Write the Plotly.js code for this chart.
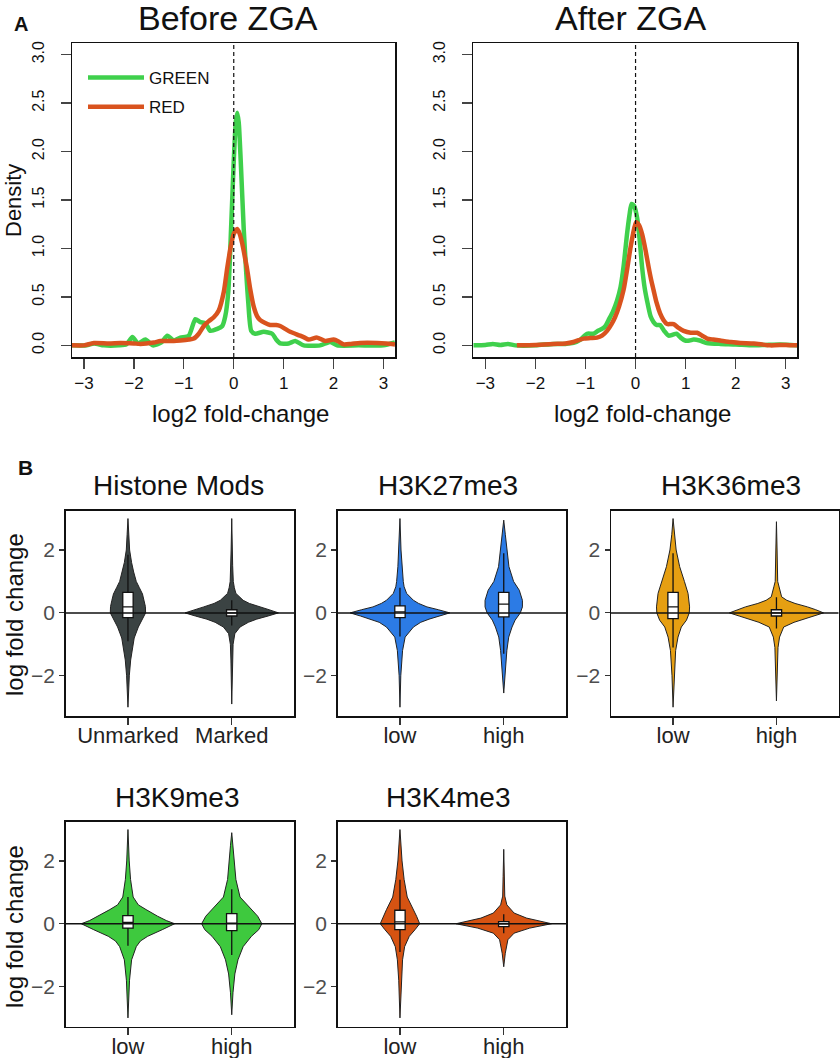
<!DOCTYPE html>
<html>
<head>
<meta charset="utf-8">
<script src="https://cdn.plot.ly/plotly-3.0.1.min.js"></script>
<style>
  html, body { margin: 0; padding: 0; background: #fff; }
  #chart { width: 840px; height: 1058px; }
</style>
</head>
<body>
<div id="chart"></div>
<script>
// ---- Panel A: density of log2 fold-change ----
const beforeGreenX = [-3.24, -2.95, -2.8, -2.6, -2.3, -2.15, -2.03, -1.92, -1.77, -1.62, -1.45, -1.33, -1.2, -1.07, -0.9, -0.77, -0.67, -0.57, -0.47, -0.33, -0.23, -0.17, -0.11, -0.05, 0.0, 0.04, 0.07, 0.1, 0.14, 0.2, 0.25, 0.29, 0.35, 0.43, 0.6, 0.77, 0.85, 0.93, 1.1, 1.23, 1.4, 1.73, 1.93, 2.07, 2.5, 3.0, 3.23];
const beforeGreenY = [0.0, 0.0, 0.02, 0.0, 0.0, 0.01, 0.086, 0.02, 0.06, 0.0, 0.03, 0.1, 0.05, 0.08, 0.1, 0.27, 0.24, 0.23, 0.15, 0.17, 0.2, 0.3, 0.55, 1.25, 1.9, 2.3, 2.4, 2.3, 1.9, 1.2, 0.75, 0.45, 0.15, 0.12, 0.14, 0.12, 0.06, 0.02, 0.02, 0.045, 0.0, 0.0, 0.035, 0.0, 0.0, 0.0, 0.03];
const beforeRedX = [-3.24, -3.0, -2.8, -2.5, -2.27, -2.0, -1.87, -1.6, -1.47, -1.2, -1.07, -0.9, -0.8, -0.7, -0.6, -0.5, -0.4, -0.3, -0.2, -0.13, -0.06, 0.0, 0.07, 0.12, 0.17, 0.22, 0.27, 0.33, 0.4, 0.47, 0.53, 0.63, 0.73, 0.85, 0.93, 1.03, 1.13, 1.23, 1.33, 1.42, 1.5, 1.67, 1.83, 2.0, 2.1, 2.2, 2.35, 2.53, 2.87, 3.05, 3.23];
const beforeRedY = [0.0, 0.0, 0.025, 0.02, 0.025, 0.02, 0.015, 0.03, 0.045, 0.045, 0.05, 0.06, 0.07, 0.12, 0.2, 0.25, 0.29, 0.36, 0.55, 0.8, 1.02, 1.15, 1.2, 1.15, 1.05, 0.92, 0.78, 0.58, 0.4, 0.3, 0.26, 0.23, 0.21, 0.21, 0.2, 0.17, 0.14, 0.12, 0.1, 0.08, 0.06, 0.08, 0.045, 0.06, 0.04, 0.01, 0.015, 0.025, 0.025, 0.02, 0.01];
const afterGreenX = [-3.24, -3.0, -2.85, -2.7, -2.55, -2.4, -2.0, -1.64, -1.4, -1.24, -1.1, -0.97, -0.84, -0.75, -0.67, -0.6, -0.54, -0.45, -0.37, -0.3, -0.24, -0.17, -0.12, -0.08, -0.03, 0.03, 0.08, 0.13, 0.18, 0.23, 0.3, 0.36, 0.42, 0.49, 0.57, 0.66, 0.74, 0.82, 0.9, 0.99, 1.08, 1.16, 1.28, 1.42, 1.69, 2.0, 2.35, 2.6, 2.89, 3.23];
const afterGreenY = [0.0, 0.005, 0.015, 0.005, 0.015, 0.0, 0.0, 0.015, 0.015, 0.025, 0.06, 0.12, 0.12, 0.15, 0.17, 0.2, 0.26, 0.35, 0.46, 0.6, 0.81, 1.15, 1.35, 1.46, 1.44, 1.32, 1.1, 0.81, 0.6, 0.46, 0.3, 0.24, 0.21, 0.21, 0.15, 0.1, 0.11, 0.12, 0.08, 0.05, 0.05, 0.06, 0.05, 0.025, 0.015, 0.01, 0.0, 0.005, 0.01, 0.0];
const afterRedX = [-2.37, -2.0, -1.64, -1.4, -1.24, -1.04, -0.9, -0.77, -0.67, -0.57, -0.48, -0.41, -0.33, -0.24, -0.17, -0.11, -0.05, 0.01, 0.07, 0.13, 0.2, 0.26, 0.31, 0.36, 0.42, 0.49, 0.56, 0.63, 0.7, 0.76, 0.86, 0.96, 1.1, 1.23, 1.33, 1.43, 1.55, 1.69, 1.9, 2.09, 2.36, 2.69, 3.0, 3.23];
const afterRedY = [0.0, 0.005, 0.015, 0.02, 0.035, 0.07, 0.075, 0.08, 0.1, 0.15, 0.22, 0.29, 0.4, 0.57, 0.78, 0.98, 1.15, 1.27, 1.24, 1.15, 0.98, 0.81, 0.68, 0.57, 0.44, 0.33, 0.26, 0.22, 0.22, 0.22, 0.18, 0.15, 0.13, 0.13, 0.1, 0.07, 0.06, 0.05, 0.035, 0.025, 0.02, 0.0, 0.005, 0.0];
const densityTicks = [0, 0.5, 1, 1.5, 2, 2.5, 3];
const foldTicks = [-3, -2, -1, 0, 1, 2, 3];

// ---- Panel B: violin outlines (level, half width) and box stats ----
const unmarkedY = [-3.0, -2.5, -2.0, -1.5, -1.2, -0.8, -0.45, -0.2, 0.0, 0.2, 0.4, 0.6, 0.8, 1.0, 1.3, 1.6, 2.0, 2.5, 3.0];
const unmarkedW = [0.0, 0.006, 0.013, 0.026, 0.04, 0.06, 0.1, 0.14, 0.17, 0.168, 0.155, 0.14, 0.11, 0.08, 0.055, 0.035, 0.016, 0.008, 0.0];
const markedY = [-2.9, -2.0, -1.5, -1.0, -0.66, -0.45, -0.3, -0.2, -0.1, 0.0, 0.1, 0.19, 0.3, 0.4, 0.62, 0.8, 1.0, 1.5, 2.0, 3.0];
const markedW = [0.0, 0.005, 0.008, 0.013, 0.03, 0.08, 0.16, 0.24, 0.35, 0.45, 0.36, 0.27, 0.17, 0.11, 0.04, 0.025, 0.015, 0.009, 0.006, 0.0];
const k27LowY = [-3.0, -2.0, -1.2, -0.77, -0.45, -0.3, -0.2, -0.1, 0.0, 0.1, 0.19, 0.3, 0.4, 0.62, 0.83, 1.0, 1.47, 2.0, 3.0];
const k27LowW = [0.0, 0.008, 0.025, 0.05, 0.13, 0.2, 0.28, 0.38, 0.48, 0.37, 0.26, 0.18, 0.13, 0.064, 0.04, 0.032, 0.02, 0.01, 0.0];
const k27HighY = [-2.55, -2.0, -1.72, -1.2, -0.77, -0.45, -0.23, 0.0, 0.19, 0.4, 0.72, 1.0, 1.47, 2.0, 2.5, 2.95];
const k27HighW = [0.0, 0.012, 0.02, 0.03, 0.048, 0.08, 0.11, 0.16, 0.18, 0.18, 0.15, 0.095, 0.05, 0.035, 0.015, 0.0];
const k36LowY = [-3.0, -2.0, -1.2, -0.77, -0.45, -0.23, 0.0, 0.19, 0.62, 1.0, 1.47, 2.0, 2.5, 3.0];
const k36LowW = [0.0, 0.01, 0.025, 0.048, 0.08, 0.13, 0.157, 0.16, 0.145, 0.11, 0.064, 0.03, 0.012, 0.0];
const k36HighY = [-2.8, -2.0, -1.1, -0.77, -0.45, -0.3, -0.2, -0.1, 0.0, 0.1, 0.19, 0.3, 0.4, 0.51, 0.83, 1.0, 2.0, 2.9];
const k36HighW = [0.0, 0.006, 0.015, 0.03, 0.07, 0.17, 0.26, 0.36, 0.455, 0.38, 0.3, 0.18, 0.1, 0.05, 0.025, 0.012, 0.006, 0.0];
const k9LowY = [-3.0, -1.8, -1.15, -0.73, -0.55, -0.4, -0.19, -0.1, 0.0, 0.1, 0.24, 0.45, 0.6, 0.85, 1.41, 2.0, 3.0];
const k9LowW = [0.0, 0.015, 0.035, 0.08, 0.12, 0.19, 0.33, 0.39, 0.45, 0.37, 0.285, 0.175, 0.1, 0.05, 0.025, 0.012, 0.0];
const k9HighY = [-2.9, -2.2, -1.6, -1.15, -0.73, -0.4, -0.19, 0.0, 0.24, 0.45, 0.85, 1.41, 2.0, 2.5, 2.9];
const k9HighW = [0.0, 0.012, 0.03, 0.06, 0.11, 0.19, 0.26, 0.29, 0.25, 0.19, 0.08, 0.04, 0.025, 0.012, 0.0];
const k4LowY = [-3.0, -1.8, -1.15, -0.73, -0.4, -0.19, 0.0, 0.24, 0.45, 0.85, 1.41, 2.0, 3.0];
const k4LowW = [0.0, 0.012, 0.025, 0.045, 0.09, 0.145, 0.19, 0.16, 0.13, 0.07, 0.04, 0.02, 0.0];
const k4HighY = [-1.37, -0.94, -0.51, -0.3, -0.14, 0.0, 0.09, 0.18, 0.34, 0.6, 0.88, 1.5, 2.37];
const k4HighW = [0.0, 0.015, 0.04, 0.1, 0.25, 0.46, 0.34, 0.22, 0.1, 0.03, 0.01, 0.006, 0.0];

// box stats per panel: [first group, second group]
const histoneQ1 = [-0.15, -0.1], histoneMed = [0.19, 0.0], histoneQ3 = [0.65, 0.1], histoneLo = [-0.9, -0.4], histoneHi = [1.85, 0.4];
const k27Q1 = [-0.15, -0.13], k27Med = [0.03, 0.28], k27Q3 = [0.22, 0.65], k27Lo = [-0.75, -1.3], k27Hi = [0.8, 1.9];
const k36Q1 = [-0.18, -0.1], k36Med = [0.19, 0.0], k36Q3 = [0.65, 0.1], k36Lo = [-1.1, -0.5], k36Hi = [1.9, 0.5];
const k9Q1 = [-0.14, -0.22], k9Med = [0.04, 0.02], k9Q3 = [0.26, 0.32], k9Lo = [-0.7, -1.0], k9Hi = [0.85, 1.1];
const k4Q1 = [-0.19, -0.09], k4Med = [0.06, 0.0], k4Q3 = [0.43, 0.07], k4Lo = [-0.9, -0.3], k4Hi = [1.4, 0.3];

const histoneCats = ['Unmarked', 'Marked'];
const levelCats = ['low', 'high'];
const lfcTicks = [-2, 0, 2];

const FONT = 'Liberation Sans, Arial, Helvetica, sans-serif';
const GREEN = '#3fd04c';
const RED = '#d9531e';

const W = 840, H = 1058;
const px = v => v / W;
const py = v => 1 - v / H;

const traces = [];

// density curves
function densityLine(x, y, color, name, xa, ya, legend) {
  return {
    type: 'scatter', mode: 'lines', x: x, y: y, name: name, legendgroup: name,
    line: { color: color, width: 4.5, shape: 'spline', smoothing: 0.6 },
    xaxis: xa, yaxis: ya, showlegend: legend, hoverinfo: 'skip'
  };
}
traces.push(densityLine(beforeGreenX, beforeGreenY, GREEN, 'GREEN', 'x', 'y', true));
traces.push(densityLine(beforeRedX, beforeRedY, RED, 'RED', 'x', 'y', true));
traces.push(densityLine(afterGreenX, afterGreenY, GREEN, 'GREEN', 'x2', 'y2', false));
traces.push(densityLine(afterRedX, afterRedY, RED, 'RED', 'x2', 'y2', false));

// violin outline from levels + half widths
function violin(center, ys, ws, color, xa, ya) {
  const n = ys.length;
  const xs = [], yy = [];
  for (let i = 0; i < n; i++) { xs.push(center + ws[i]); yy.push(ys[i]); }
  for (let i = n - 1; i >= 0; i--) { xs.push(center - ws[i]); yy.push(ys[i]); }
  return {
    type: 'scatter', mode: 'lines', x: xs, y: yy, fill: 'toself', fillcolor: color,
    line: { color: '#222', width: 1 }, xaxis: xa, yaxis: ya, showlegend: false, hoverinfo: 'skip'
  };
}
// boxes sit on an overlaid axis pair so they draw above the violin fills
function boxes(q1, med, q3, lo, hi, xa, ya) {
  return {
    type: 'box', orientation: 'v', x: [0, 1], q1: q1, median: med, q3: q3, lowerfence: lo, upperfence: hi,
    width: 0.1, whiskerwidth: 0, fillcolor: '#ffffff',
    line: { color: '#111', width: 1.3 }, boxpoints: false,
    xaxis: xa, yaxis: ya, showlegend: false, hoverinfo: 'skip'
  };
}

const panels = [
  { n: 3, color: '#3b4343', v: [[unmarkedY, unmarkedW], [markedY, markedW]], s: [histoneQ1, histoneMed, histoneQ3, histoneLo, histoneHi] },
  { n: 4, color: '#2c7be5', v: [[k27LowY, k27LowW], [k27HighY, k27HighW]], s: [k27Q1, k27Med, k27Q3, k27Lo, k27Hi] },
  { n: 5, color: '#e69f12', v: [[k36LowY, k36LowW], [k36HighY, k36HighW]], s: [k36Q1, k36Med, k36Q3, k36Lo, k36Hi] },
  { n: 6, color: '#3ec93e', v: [[k9LowY, k9LowW], [k9HighY, k9HighW]], s: [k9Q1, k9Med, k9Q3, k9Lo, k9Hi] },
  { n: 7, color: '#d65312', v: [[k4LowY, k4LowW], [k4HighY, k4HighW]], s: [k4Q1, k4Med, k4Q3, k4Lo, k4Hi] }
];
panels.forEach(p => {
  p.v.forEach((d, i) => traces.push(violin(i, d[0], d[1], p.color, 'x' + p.n, 'y' + p.n)));
  traces.push(boxes(p.s[0], p.s[1], p.s[2], p.s[3], p.s[4], 'x' + (p.n + 5), 'y' + (p.n + 5)));
});

// axes
const topY = [py(357), py(43)];
const violXRange = [-0.6, 1.6], violYRange = [-3.28, 3.25];
function densX(dom, anchor) {
  return {
    domain: dom, anchor: anchor, range: [-3.24, 3.23], tickvals: foldTicks, ticks: 'outside', ticklen: 10, tickwidth: 1.2,
    showline: true, mirror: true, linecolor: '#111', linewidth: 1.5, showgrid: false, zeroline: false,
    tickfont: { size: 17, color: '#111' }
  };
}
function densY(dom, anchor) {
  return {
    domain: dom, anchor: anchor, range: [-0.12, 3.12], tickvals: densityTicks, tickformat: '.1f', tickangle: -90,
    ticks: 'outside', ticklen: 10, tickwidth: 1.2, ticklabelstandoff: 10,
    showline: true, mirror: true, linecolor: '#111', linewidth: 1.5, showgrid: false, zeroline: false,
    tickfont: { size: 16, color: '#111' }
  };
}
function violX(dom, anchor, cats) {
  return {
    domain: dom, anchor: anchor, range: violXRange, tickvals: [0, 1], ticktext: cats,
    ticks: 'outside', ticklen: 7, tickwidth: 1.2, tickcolor: '#333', ticklabelstandoff: -8,
    showline: true, mirror: true, linecolor: '#111', linewidth: 1.5, showgrid: false, zeroline: false,
    tickfont: { size: 22, color: '#222' }
  };
}
function violY(dom, anchor) {
  return {
    domain: dom, anchor: anchor, range: violYRange, tickvals: lfcTicks,
    ticks: 'outside', ticklen: 5, tickwidth: 1.2, tickcolor: '#333',
    showline: true, mirror: true, linecolor: '#111', linewidth: 1.5, showgrid: false, zeroline: false,
    tickfont: { size: 21, color: '#4d4d4d' }
  };
}

const col1 = [px(65.7), px(294)], col2 = [px(337.7), px(566)], col3 = [px(611), px(838.5)];
const row1 = [py(716), py(510.7)], row2 = [py(1026.7), py(821.7)];

const layout = {
  width: W, height: H,
  margin: { l: 0, r: 0, t: 0, b: 0 },
  paper_bgcolor: '#fff', plot_bgcolor: '#fff',
  font: { family: FONT, color: '#111' },
  showlegend: true,
  legend: {
    x: px(83), y: py(60), xanchor: 'left', yanchor: 'top',
    font: { size: 17, color: '#111' }, bgcolor: 'rgba(0,0,0,0)', itemwidth: 56, tracegroupgap: 4
  },
  xaxis: densX([px(72), px(395)], 'y'),
  yaxis: densY(topY, 'x'),
  xaxis2: densX([px(473.3), px(797.3)], 'y2'),
  yaxis2: densY(topY, 'x2'),
  xaxis3: violX(col1, 'y3', histoneCats), yaxis3: violY(row1, 'x3'),
  xaxis4: violX(col2, 'y4', levelCats), yaxis4: violY(row1, 'x4'),
  xaxis5: violX(col3, 'y5', levelCats), yaxis5: violY(row1, 'x5'),
  xaxis6: violX(col1, 'y6', levelCats), yaxis6: violY(row2, 'x6'),
  xaxis7: violX(col2, 'y7', levelCats), yaxis7: violY(row2, 'x7'),
  shapes: [],
  annotations: []
};
// overlay axes for the boxes
[3, 4, 5, 6, 7].forEach(n => {
  layout['xaxis' + (n + 5)] = { overlaying: 'x' + n, anchor: 'y' + (n + 5), range: violXRange, visible: false };
  layout['yaxis' + (n + 5)] = { overlaying: 'y' + n, anchor: 'x' + (n + 5), range: violYRange, visible: false };
});

// reference lines
['', '2'].forEach(k => {
  layout.shapes.push({ type: 'line', xref: 'x' + k, yref: 'y' + k + ' domain', x0: 0, x1: 0, y0: 0, y1: 1,
    line: { color: '#111', width: 1.2, dash: '4px,3px' } });
});
[3, 4, 5, 6, 7].forEach(k => {
  layout.shapes.push({ type: 'line', xref: 'x' + k + ' domain', yref: 'y' + k, x0: 0, x1: 1, y0: 0, y1: 0,
    layer: 'above', line: { color: '#111', width: 1.5 } });
});

function label(text, x, y, size, extra) {
  layout.annotations.push(Object.assign({
    text: text, x: px(x), y: py(y), xref: 'paper', yref: 'paper', showarrow: false,
    xanchor: 'center', yanchor: 'middle', font: { size: size, color: '#111', family: FONT }
  }, extra || {}));
}
label('<b>A</b>', 21, 24, 20);
label('<b>B</b>', 25, 467, 21);
label('Before ZGA', 228, 18, 34);
label('After ZGA', 630, 18, 34);
label('Density', 13, 201, 22, { textangle: -90 });
label('log2 fold-change', 240, 414, 24);
label('log2 fold-change', 642, 414, 24);
label('Histone Mods', 178, 485, 28);
label('H3K27me3', 448, 485, 28);
label('H3K36me3', 731, 485, 28);
label('H3K9me3', 177, 797, 28);
label('H3K4me3', 448, 797, 28);
label('log fold change', 14, 615, 24, { textangle: -90 });
label('log fold change', 14, 927, 24, { textangle: -90 });

Plotly.newPlot('chart', traces, layout, { staticPlot: true, displayModeBar: false });
</script>
</body>
</html>
